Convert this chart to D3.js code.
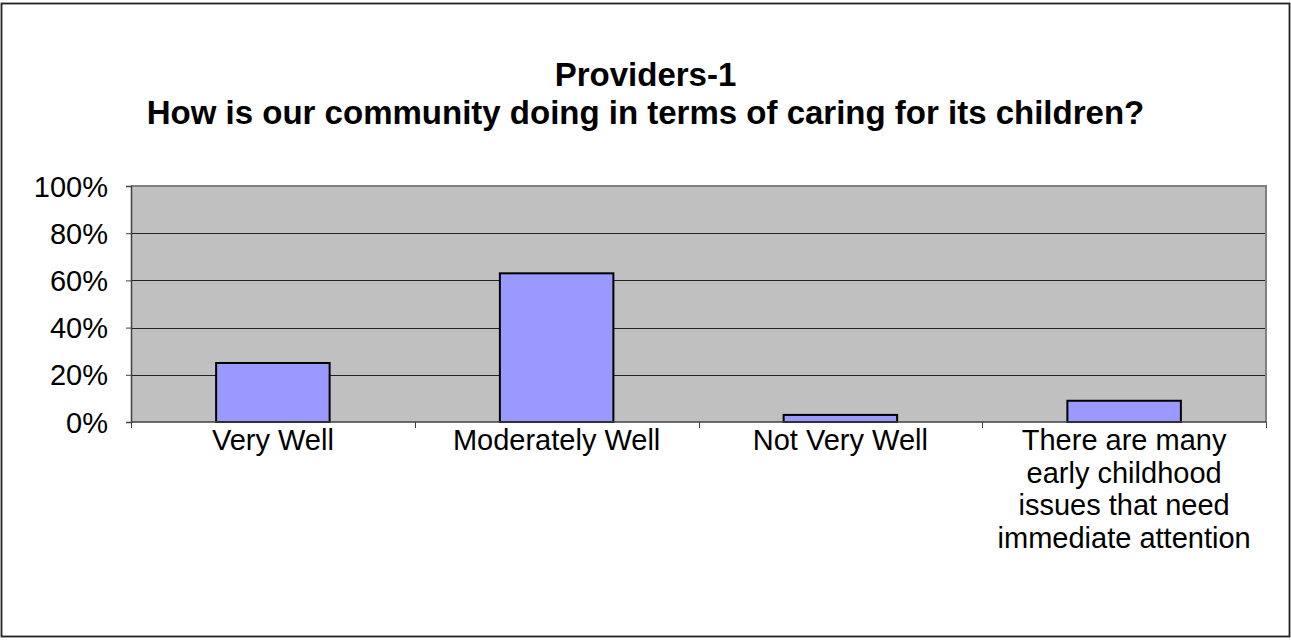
<!DOCTYPE html>
<html>
<head>
<meta charset="utf-8">
<script src="https://cdn.jsdelivr.net/npm/d3@7"></script>
<style>
  html, body { margin: 0; padding: 0; background: #fff; }
  svg { display: block; }
  text { font-family: "Liberation Sans", Arial, sans-serif; fill: #000; }
</style>
</head>
<body>
<script>
const titleLines = ["Providers-1", "How is our community doing in terms of caring for its children?"];
const categories = ["Very Well", "Moderately Well", "Not Very Well", "There are many early childhood issues that need immediate attention"];
const values = [0.25, 0.63, 0.03, 0.09];
const yTicks = [0, 0.2, 0.4, 0.6, 0.8, 1.0];

const W = 1291, H = 644;
const plot = { left: 131, right: 1266, top: 186, bottom: 422 };

const svg = d3.select("body").append("svg").attr("width", W).attr("height", H);

// outer chart border
svg.append("rect")
  .attr("x", 1.5).attr("y", 3.5)
  .attr("width", 1288).attr("height", 633)
  .attr("fill", "#fff").attr("stroke", "#222").attr("stroke-width", 1.8);

// title
svg.append("g").selectAll("text").data(titleLines).join("text")
  .attr("x", W / 2)
  .attr("y", (d, i) => 86 + i * 37.5)
  .attr("text-anchor", "middle")
  .attr("font-size", 33)
  .attr("font-weight", "bold")
  .text(d => d);

const x = d3.scaleBand().domain(categories).range([plot.left, plot.right])
  .paddingInner(0.6).paddingOuter(0.3);
const xEdges = d3.scaleBand().domain(categories).range([plot.left, plot.right]).padding(0);
const y = d3.scaleLinear().domain([0, 1]).range([plot.bottom, plot.top]);

// plot background
svg.append("rect")
  .attr("x", plot.left).attr("y", plot.top)
  .attr("width", plot.right - plot.left).attr("height", plot.bottom - plot.top)
  .attr("fill", "#C0C0C0");

// gridlines
svg.append("g").selectAll("line").data(yTicks.filter(v => v > 0 && v < 1)).join("line")
  .attr("x1", plot.left).attr("x2", plot.right)
  .attr("y1", d => Math.round(y(d)) + 0.5).attr("y2", d => Math.round(y(d)) + 0.5)
  .attr("stroke", "#222").attr("stroke-width", 1);

// plot frame top & right
svg.append("path")
  .attr("d", `M${plot.left},${plot.top} H${plot.right} V${plot.bottom}`)
  .attr("fill", "none").attr("stroke", "#808080").attr("stroke-width", 2);

// bars
svg.append("g").selectAll("rect").data(values).join("rect")
  .attr("x", (d, i) => x(categories[i]))
  .attr("y", d => y(d))
  .attr("width", x.bandwidth())
  .attr("height", d => y(0) - y(d))
  .attr("fill", "#9999FF")
  .attr("stroke", "#000")
  .attr("stroke-width", 2);

// y axis
const yAxis = svg.append("g")
  .attr("transform", `translate(${plot.left},0)`)
  .call(d3.axisLeft(y).tickValues(yTicks).tickFormat(d3.format(".0%")).tickSize(5).tickPadding(18));
yAxis.select(".domain").attr("stroke", "#404040").attr("stroke-width", 1.5);
yAxis.selectAll(".tick line").attr("stroke", "#404040");
yAxis.selectAll(".tick text")
  .attr("font-size", 29)
  .attr("font-family", "Liberation Sans, Arial, sans-serif")
  .attr("fill", "#000")
  .attr("dy", "0.35em");

// x axis line
svg.append("line")
  .attr("x1", plot.left).attr("x2", plot.right)
  .attr("y1", plot.bottom).attr("y2", plot.bottom)
  .attr("stroke", "#404040").attr("stroke-width", 1.5);

// x boundary ticks
const edges = categories.map(c => xEdges(c)).concat([plot.right]);
svg.append("g").selectAll("line").data(edges).join("line")
  .attr("x1", d => Math.round(d) + 0.5).attr("x2", d => Math.round(d) + 0.5)
  .attr("y1", plot.bottom).attr("y2", plot.bottom + 6)
  .attr("stroke", "#404040").attr("stroke-width", 1);

// category labels (wrapped)
const measure = svg.append("text").attr("font-size", 29).attr("visibility", "hidden");
function wrap(str, maxW) {
  const words = str.split(" ");
  const lines = [];
  let cur = "";
  words.forEach(w => {
    const test = cur ? cur + " " + w : w;
    measure.text(test);
    if (measure.node().getComputedTextLength() > maxW && cur) {
      lines.push(cur);
      cur = w;
    } else cur = test;
  });
  if (cur) lines.push(cur);
  return lines;
}
const labels = svg.append("g");
categories.forEach((c, i) => {
  const lines = wrap(c, 265);
  const t = labels.append("text")
    .attr("x", x(c) + x.bandwidth() / 2)
    .attr("y", 450)
    .attr("text-anchor", "middle")
    .attr("font-size", 29);
  lines.forEach((ln, j) => {
    t.append("tspan")
      .attr("x", x(c) + x.bandwidth() / 2)
      .attr("dy", j === 0 ? 0 : 32.7)
      .text(ln);
  });
});
measure.remove();
</script>
</body>
</html>
